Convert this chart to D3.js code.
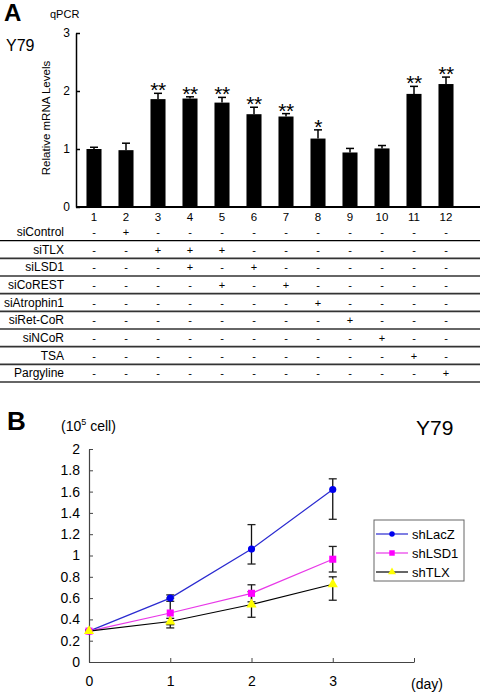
<!DOCTYPE html>
<html><head><meta charset="utf-8">
<script src="https://cdn.jsdelivr.net/npm/d3@7"></script>
<style>
html,body{margin:0;padding:0;background:#fff;}
svg{display:block;font-family:"Liberation Sans",Arial,sans-serif;}
</style></head>
<body><svg id="c" width="480" height="692"></svg>
<script>
// ---------- Panel A data ----------
const lanes = ["1","2","3","4","5","6","7","8","9","10","11","12"];
const mrna = [1.00, 0.98, 1.86, 1.87, 1.80, 1.60, 1.56, 1.18, 0.94, 1.01, 1.95, 2.12];
const mrnaErr = [0.03, 0.12, 0.10, 0.03, 0.09, 0.12, 0.05, 0.15, 0.07, 0.05, 0.13, 0.12];
const signif = ["", "", "**", "**", "**", "**", "**", "*", "", "", "**", "**"];
const mrnaTicks = [0, 1, 2, 3];
const treatments = ["siControl","siTLX","siLSD1","siCoREST","siAtrophin1","siRet-CoR","siNCoR","TSA","Pargyline"];
const treatmentSigns = [
  ["-","+","-","-","-","-","-","-","-","-","-","-"],
  ["-","-","+","+","+","-","-","-","-","-","-","-"],
  ["-","-","-","+","-","+","-","-","-","-","-","-"],
  ["-","-","-","-","+","-","+","-","-","-","-","-"],
  ["-","-","-","-","-","-","-","+","-","-","-","-"],
  ["-","-","-","-","-","-","-","-","+","-","-","-"],
  ["-","-","-","-","-","-","-","-","-","+","-","-"],
  ["-","-","-","-","-","-","-","-","-","-","+","-"],
  ["-","-","-","-","-","-","-","-","-","-","-","+"]
];

// ---------- Panel B data ----------
const days = [0, 1, 2, 3];
const dayTicks = [0, 1, 2, 3];
const cellTicks = [0, 0.2, 0.4, 0.6, 0.8, 1, 1.2, 1.4, 1.6, 1.8, 2];
const seriesNames = ["shLacZ", "shLSD1", "shTLX"];
const shLacZ = [0.29, 0.60, 1.06, 1.62];
const shLacZHi = [0.01, 0.03, 0.23, 0.10];
const shLacZLo = [0.01, 0.03, 0.14, 0.28];
const shLSD1 = [0.29, 0.46, 0.645, 0.965];
const shLSD1Hi = [0.00, 0.14, 0.08, 0.12];
const shLSD1Lo = [0.00, 0.14, 0.08, 0.12];
const shTLX = [0.29, 0.38, 0.54, 0.73];
const shTLXHi = [0.00, 0.03, 0.12, 0.07];
const shTLXLo = [0.00, 0.03, 0.12, 0.15];

const svg = d3.select("#c");

// ================= Panel A =================
const xA = d3.scaleBand().domain(lanes).range([78, 462]).paddingInner(0.53).paddingOuter(0.265);
const yA = d3.scaleLinear().domain([0, 3]).range([207, 33]);

svg.append("text").attr("x", 4).attr("y", 21).attr("font-size", 24).attr("font-weight", "bold").text("A");
svg.append("text").attr("x", 50).attr("y", 18).attr("font-size", 11).text("qPCR");
svg.append("text").attr("x", 6).attr("y", 51).attr("font-size", 16).text("Y79");
svg.append("text").attr("transform", "translate(50,118) rotate(-90)").attr("text-anchor", "middle")
  .attr("font-size", 11.5).text("Relative mRNA Levels");

const gA = svg.append("g");
// bars
gA.selectAll("rect.bar").data(mrna).join("rect").attr("class", "bar")
  .attr("x", (d, i) => xA(lanes[i])).attr("width", xA.bandwidth())
  .attr("y", d => yA(d)).attr("height", d => yA(0) - yA(d)).attr("fill", "#000");
// error bars (upward)
const capA = 4;
gA.selectAll("line.eb").data(mrna).join("line").attr("class", "eb")
  .attr("x1", (d, i) => xA(lanes[i]) + xA.bandwidth() / 2).attr("x2", (d, i) => xA(lanes[i]) + xA.bandwidth() / 2)
  .attr("y1", d => yA(d)).attr("y2", (d, i) => yA(d + mrnaErr[i])).attr("stroke", "#000").attr("stroke-width", 1.5);
gA.selectAll("line.cap").data(mrna).join("line").attr("class", "cap")
  .attr("x1", (d, i) => xA(lanes[i]) + xA.bandwidth() / 2 - capA).attr("x2", (d, i) => xA(lanes[i]) + xA.bandwidth() / 2 + capA)
  .attr("y1", (d, i) => yA(d + mrnaErr[i])).attr("y2", (d, i) => yA(d + mrnaErr[i])).attr("stroke", "#000").attr("stroke-width", 1.5);
// significance
gA.selectAll("text.sig").data(mrna).join("text").attr("class", "sig")
  .attr("x", (d, i) => xA(lanes[i]) + xA.bandwidth() / 2).attr("y", (d, i) => yA(d + mrnaErr[i]) + 4)
  .attr("text-anchor", "middle").attr("font-size", 21).attr("letter-spacing", -0.5).text((d, i) => signif[i]);

// y axis
const yAxisA = d3.axisLeft(yA).tickValues(mrnaTicks).tickFormat(d3.format("d")).tickSizeInner(-4).tickSizeOuter(0).tickPadding(6);
const gyA = svg.append("g").attr("transform", "translate(76,0)").call(yAxisA);
gyA.select(".domain").attr("stroke", "#000").attr("stroke-width", 1.5);
gyA.selectAll(".tick line").attr("stroke", "#000").attr("stroke-width", 1.5);
gyA.selectAll(".tick text").attr("font-size", 12).attr("font-family", "Liberation Sans, Arial, sans-serif").attr("fill", "#000");

// x axis
const xAxisA = d3.axisBottom(xA).tickSize(0).tickPadding(6);
const gxA = svg.append("g").attr("transform", "translate(0,207)").call(xAxisA);
gxA.select(".domain").remove();
gxA.selectAll(".tick text").attr("font-size", 11.5).attr("font-family", "Liberation Sans, Arial, sans-serif").attr("fill", "#000");
svg.append("line").attr("x1", 76).attr("x2", 480).attr("y1", 207).attr("y2", 207).attr("stroke", "#000").attr("stroke-width", 2.2);

// treatment table
const rowY = d3.scaleBand().domain(treatments).range([223, 382]);
const gT = svg.append("g");
treatments.forEach((t, r) => {
  const yc = rowY(t) + rowY.bandwidth() / 2;
  gT.append("text").attr("x", 64).attr("y", yc + 4).attr("text-anchor", "end").attr("font-size", 12).text(t);
  gT.selectAll(null).data(treatmentSigns[r]).join("text")
    .attr("x", (d, i) => xA(lanes[i]) + xA.bandwidth() / 2).attr("y", yc + 4)
    .attr("text-anchor", "middle").attr("font-size", 11).text(d => d);
  gT.append("line").attr("x1", 0).attr("x2", 480)
    .attr("y1", rowY(t) + rowY.bandwidth()).attr("y2", rowY(t) + rowY.bandwidth())
    .attr("stroke", r === 0 ? "#000" : "#333").attr("stroke-width", r === 0 ? 1.3 : 1.6);
});

// ================= Panel B =================
const xB = d3.scaleLinear().domain([0, 4]).range([89, 414]);
const yB = d3.scaleLinear().domain([0, 2]).range([662, 449]);

svg.append("text").attr("x", 7).attr("y", 430).attr("font-size", 26).attr("font-weight", "bold").text("B");
const unit = svg.append("text").attr("x", 61).attr("y", 431).attr("font-size", 14);
unit.append("tspan").text("(10");
unit.append("tspan").attr("dy", -6).attr("font-size", 9).text("5");
unit.append("tspan").attr("dy", 6).text(" cell)");
svg.append("text").attr("x", 416).attr("y", 435).attr("font-size", 21).text("Y79");

const axisCol = "#444";
const yAxisB = d3.axisLeft(yB).tickValues(cellTicks).tickFormat(d => d3.format("")(+d.toFixed(1))).tickSizeInner(-4).tickSizeOuter(0).tickPadding(9);
const gyB = svg.append("g").attr("transform", "translate(89,0)").call(yAxisB);
gyB.select(".domain").attr("stroke", axisCol).attr("stroke-width", 1.2);
gyB.selectAll(".tick line").attr("stroke", axisCol);
gyB.selectAll(".tick text").attr("font-size", 14).attr("font-family", "Liberation Sans, Arial, sans-serif").attr("fill", "#000");

const xAxisB = d3.axisBottom(xB).tickValues([0, 1, 2, 3, 4]).tickFormat(d => dayTicks.includes(d) ? d : "")
  .tickSizeInner(-4).tickSizeOuter(0).tickPadding(14);
const gxB = svg.append("g").attr("transform", "translate(0,662)").call(xAxisB);
gxB.select(".domain").attr("stroke", axisCol).attr("stroke-width", 1.2);
gxB.selectAll(".tick line").attr("stroke", axisCol);
gxB.selectAll(".tick text").attr("font-size", 14).attr("font-family", "Liberation Sans, Arial, sans-serif").attr("fill", "#000");
svg.append("text").attr("x", 411).attr("y", 689).attr("font-size", 14).text("(day)");

const seriesB = [
  {name: seriesNames[0], v: shLacZ, hi: shLacZHi, lo: shLacZLo, line: "#2a2ad0", fill: "#0000ee", shape: "circle"},
  {name: seriesNames[1], v: shLSD1, hi: shLSD1Hi, lo: shLSD1Lo, line: "#e838e8", fill: "#ff00ff", shape: "square"},
  {name: seriesNames[2], v: shTLX, hi: shTLXHi, lo: shTLXLo, line: "#000", fill: "#ffff00", shape: "triangle"}
];
const symType = {circle: d3.symbolCircle, square: d3.symbolSquare, triangle: d3.symbolTriangle};
const symSize = {circle: 40, square: 50, triangle: 45};
const gB = svg.append("g");
// error bars
seriesB.forEach(s => {
  days.forEach((d, i) => {
    if (s.hi[i] <= 0.005 && s.lo[i] <= 0.005) return;
    const x = xB(d), yt = yB(s.v[i] + s.hi[i]), yb = yB(s.v[i] - s.lo[i]);
    gB.append("line").attr("x1", x).attr("x2", x).attr("y1", yt).attr("y2", yb).attr("stroke", "#111").attr("stroke-width", 1.3);
    [yt, yb].forEach(yy => gB.append("line").attr("x1", x - 4).attr("x2", x + 4).attr("y1", yy).attr("y2", yy).attr("stroke", "#222").attr("stroke-width", 1.3));
  });
});
const lineGen = d3.line().x((d, i) => xB(days[i])).y(d => yB(d));
seriesB.forEach(s => {
  gB.append("path").attr("d", lineGen(s.v)).attr("fill", "none").attr("stroke", s.line).attr("stroke-width", 1.2);
});
seriesB.forEach(s => {
  gB.selectAll(null).data(s.v).join("path")
    .attr("transform", (d, i) => `translate(${xB(days[i])},${yB(d)})`)
    .attr("d", d3.symbol().type(symType[s.shape]).size(symSize[s.shape]))
    .attr("fill", s.fill);
});

// legend
const lg = svg.append("g").attr("transform", "translate(374,520)");
lg.append("rect").attr("x", 0).attr("y", 0).attr("width", 90).attr("height", 61).attr("fill", "#fff").attr("stroke", "#666");
seriesB.forEach((s, i) => {
  const yy = 14 + i * 19;
  lg.append("line").attr("x1", 2).attr("x2", 34).attr("y1", yy).attr("y2", yy).attr("stroke", s.line).attr("stroke-width", 1.2);
  lg.append("path").attr("transform", `translate(18,${yy})`)
    .attr("d", d3.symbol().type(symType[s.shape]).size(symSize[s.shape] * 0.6)).attr("fill", s.fill);
  lg.append("text").attr("x", 38).attr("y", yy + 5).attr("font-size", 13).text(s.name);
});
</script></body></html>
